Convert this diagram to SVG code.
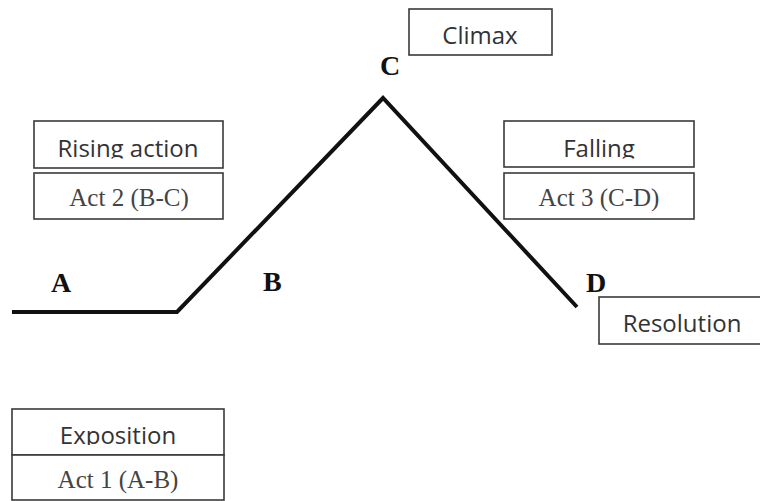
<svg xmlns="http://www.w3.org/2000/svg" width="760" height="501" viewBox="0 0 760 501">
<defs>
<style>
.box{fill:#fff;stroke:#3a3a3a;stroke-width:1.6}
.sans{font-family:"Open Sans","Noto Sans","DejaVu Sans",sans-serif;font-size:24px;fill:#333;text-anchor:middle}
.serif{font-family:"Liberation Serif","Times New Roman",serif;font-size:25px;fill:#444;text-anchor:middle}
.lbl{font-family:"Liberation Serif","Times New Roman",serif;font-size:28px;font-weight:bold;fill:#111}
.plot{fill:none;stroke:#111;stroke-width:4;stroke-linejoin:miter}
</style>
<clipPath id="cRise" clipPathUnits="userSpaceOnUse"><rect x="34" y="121" width="189" height="37.5"/></clipPath>
<clipPath id="cFall" clipPathUnits="userSpaceOnUse"><rect x="504" y="121" width="190" height="37.5"/></clipPath>
<clipPath id="cExpo" clipPathUnits="userSpaceOnUse"><rect x="12" y="409" width="212" height="36"/></clipPath>
</defs>
<rect width="760" height="501" fill="#fff"/>
<g id="connectors">
<polyline class="plot" points="12,312 177,312 383,98 577,307"/>
</g>
<g id="label-A"><text class="lbl" x="51" y="292">A</text></g>
<g id="label-B"><text class="lbl" x="263" y="291">B</text></g>
<g id="label-C"><text class="lbl" x="380" y="75">C</text></g>
<g id="label-D"><text class="lbl" x="586" y="292">D</text></g>
<g id="climax">
<rect class="box" x="409" y="9" width="143" height="46"/>
<text class="sans" x="480" y="44">Climax</text>
</g>
<g id="rising">
<rect class="box" x="34" y="121" width="189" height="47"/>
<text class="sans" x="128" y="157" clip-path="url(#cRise)">Rising action</text>
<rect class="box" x="34" y="173" width="189" height="46"/>
<text class="serif" x="129" y="206">Act 2 (B-C)</text>
</g>
<g id="falling">
<rect class="box" x="504" y="121" width="190" height="46"/>
<text class="sans" x="599" y="157" clip-path="url(#cFall)">Falling</text>
<rect class="box" x="504" y="173" width="190" height="46"/>
<text class="serif" x="599" y="206">Act 3 (C-D)</text>
</g>
<g id="resolution">
<rect class="box" x="599" y="297" width="170" height="47"/>
<text class="sans" x="682" y="332">Resolution</text>
</g>
<g id="exposition">
<rect class="box" x="12" y="409" width="212" height="46"/>
<text class="sans" x="118" y="444" clip-path="url(#cExpo)">Exposition</text>
<rect class="box" x="12" y="455" width="212" height="45"/>
<text class="serif" x="118" y="488">Act 1 (A-B)</text>
</g>
</svg>
